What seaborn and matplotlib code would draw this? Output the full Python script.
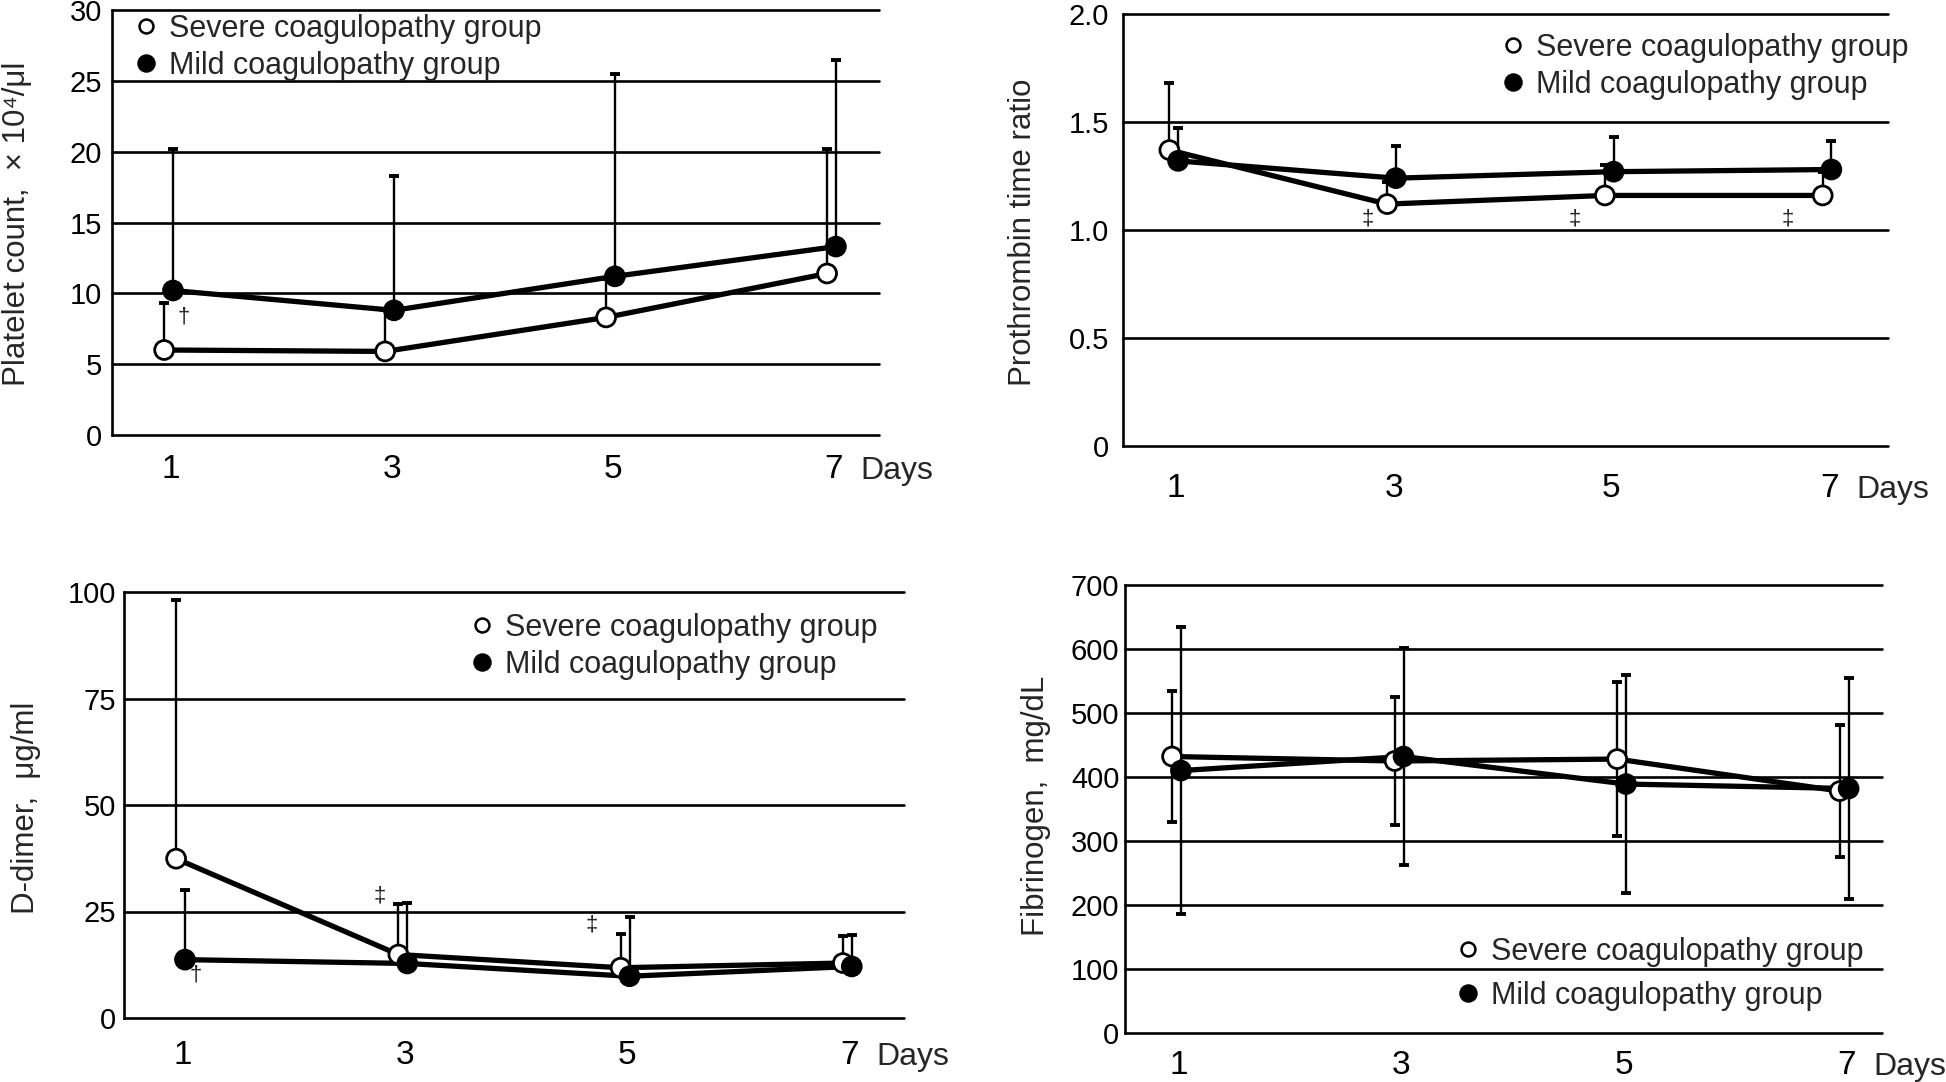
import numpy as np
import pandas as pd
import matplotlib
matplotlib.use('Agg')
import matplotlib.pyplot as plt
import seaborn as sns
from matplotlib.lines import Line2D

# ── data ──
days = [1, 3, 5, 7]
groups = ['Severe coagulopathy group', 'Mild coagulopathy group']

plt_severe = [6.0, 5.9, 8.3, 11.4]
plt_severe_sd = [3.3, 2.9, 2.7, 8.8]
plt_mild = [10.2, 8.8, 11.2, 13.3]
plt_mild_sd = [10.0, 9.5, 14.3, 13.2]

pt_severe = [1.37, 1.12, 1.16, 1.16]
pt_severe_sd = [0.31, 0.10, 0.14, 0.11]
pt_mild = [1.32, 1.24, 1.27, 1.28]
pt_mild_sd = [0.15, 0.15, 0.16, 0.13]

dd_severe = [37.4, 14.9, 11.8, 12.9]
dd_severe_sd = [60.8, 11.9, 8.0, 6.3]
dd_mild = [13.7, 12.8, 9.8, 12.1]
dd_mild_sd = [16.3, 14.3, 13.9, 7.3]

fib_severe = [432, 425, 428, 378]
fib_severe_sd = [102, 100, 120, 103]
fib_mild = [410, 432, 389, 382]
fib_mild_sd = [224, 170, 170, 173]

# significance marks: (symbol, day position, value)
plt_marks = [('†', 1.12, 8.3)]
pt_marks = [('‡', 2.76, 1.05), ('‡', 4.66, 1.05), ('‡', 6.62, 1.05)]
dd_marks = [('†', 1.12, 10.0), ('‡', 2.77, 28.6), ('‡', 4.68, 21.8)]
fib_marks = []

sns.set_style('white')
plt.rcParams['font.family'] = ['Liberation Sans', 'DejaVu Sans']

W, H = 1946, 1082
fig = plt.figure(figsize=(W / 100, H / 100), dpi=100)


def rect(l, r, t, b):
    return [l / W, 1 - b / H, (r - l) / W, (b - t) / H]


def panel(box, severe, severe_sd, mild, mild_sd, yticks, ylabels, xlim,
          ylabel, ylabel_xy, marks, legend_xy, legend_sp, both=False,
          xlab_off=32, ypad=8):
    ax = fig.add_axes(rect(*box))
    offs = {groups[0]: -0.06, groups[1]: 0.02}
    rows = []
    for g, vals, sds in [(groups[0], severe, severe_sd), (groups[1], mild, mild_sd)]:
        for d, v, s in zip(days, vals, sds):
            rows.append({'group': g, 'day': d, 'x': d + offs[g], 'value': v, 'sd': s})
    df = pd.DataFrame(rows)

    for g in groups:
        sub = df[df.group == g]
        lower = sub.sd if both else np.zeros(len(sub))
        ax.errorbar(sub.x, sub.value, yerr=[lower, sub.sd], fmt='none',
                    ecolor='black', elinewidth=1.7, capsize=3.5, capthick=2.8,
                    zorder=2)

    sns.lineplot(data=df, x='x', y='value', hue='group',
                 palette={groups[0]: 'black', groups[1]: 'black'},
                 lw=3.8, legend=False, sort=False, estimator=None,
                 ax=ax, zorder=3)
    sns.scatterplot(data=df, x='x', y='value', hue='group',
                    palette={groups[0]: 'white', groups[1]: 'black'},
                    edgecolor='black', linewidth=2.0, s=185, legend=False,
                    ax=ax, zorder=4)

    ax.set_xlim(*xlim)
    ax.set_ylim(yticks[0], yticks[-1])
    ax.set_xticks(days)
    ax.set_xticklabels([str(d) for d in days])
    ax.set_yticks(yticks)
    ax.set_yticklabels(ylabels)
    ax.set_xlabel('')
    ax.set_ylabel('')
    ax.grid(axis='y', color='black', lw=1.9)
    ax.grid(axis='x', visible=False)
    for gl in ax.get_ygridlines():
        gl.set_clip_on(False)
    ax.set_axisbelow(True)
    sns.despine(ax=ax, bottom=True)
    ax.spines['left'].set_color('black')
    ax.spines['left'].set_linewidth(1.9)
    # x tick labels centred about xlab_off pixels below the axis
    xpad = max(xlab_off - 13, 2) * 72 / 100
    ax.tick_params(axis='x', length=0, labelsize=24, pad=xpad, colors='black')
    ax.tick_params(axis='y', length=0, labelsize=21, pad=ypad, colors='black')

    ax.annotate('Days', xy=(7, 0), xycoords=('data', 'axes fraction'),
                xytext=(27, -xlab_off - 4), textcoords='offset pixels',
                ha='left', va='center', fontsize=23)

    for sym, x, y in marks:
        ax.text(x, y, sym, ha='center', va='center', fontsize=16)

    fig.text(ylabel_xy[0] / W, 1 - ylabel_xy[1] / H, ylabel, rotation=90,
             ha='center', va='center', fontsize=22.5)

    handles = [Line2D([], [], marker='o', ls='none', mfc='white', mec='black',
                      ms=10, mew=1.8),
               Line2D([], [], marker='o', ls='none', mfc='black', mec='black',
                      ms=11.5, mew=1.8)]
    ax.legend(handles, groups, loc='upper left',
              bbox_to_anchor=(legend_xy[0] / W, 1 - legend_xy[1] / H),
              bbox_transform=fig.transFigure, frameon=False, fontsize=22,
              handlelength=1.0, handletextpad=0.25, borderpad=0,
              borderaxespad=0, labelspacing=legend_sp)
    return ax


panel((112, 879, 10, 435), plt_severe, plt_severe_sd, plt_mild, plt_mild_sd,
      [0, 5, 10, 15, 20, 25, 30], ['0', '5', '10', '15', '20', '25', '30'],
      (0.468, 7.41), 'Platelet count,  × 10⁴/μl', (17, 224), plt_marks,
      (131, 14), 0.22, xlab_off=32, ypad=7)

panel((1123, 1888, 14, 446), pt_severe, pt_severe_sd, pt_mild, pt_mild_sd,
      [0, 0.5, 1.0, 1.5, 2.0], ['0', '0.5', '1.0', '1.5', '2.0'],
      (0.514, 7.54), 'Prothrombin time ratio', (1023, 232), pt_marks,
      (1498, 33), 0.22, xlab_off=40, ypad=10)

panel((124, 904, 592, 1018), dd_severe, dd_severe_sd, dd_mild, dd_mild_sd,
      [0, 25, 50, 75, 100], ['0', '25', '50', '75', '100'],
      (0.471, 7.49), 'D-dimer,  μg/ml', (26, 808), dd_marks,
      (467, 613), 0.22, xlab_off=35, ypad=6)

panel((1125, 1882, 585, 1033), fib_severe, fib_severe_sd, fib_mild, fib_mild_sd,
      [0, 100, 200, 300, 400, 500, 600, 700],
      ['0', '100', '200', '300', '400', '500', '600', '700'],
      (0.517, 7.32), 'Fibrinogen,  mg/dL', (1036, 806), fib_marks,
      (1453, 937), 0.45, both=True, xlab_off=30, ypad=4)

plt.savefig('out.png', dpi=100)
